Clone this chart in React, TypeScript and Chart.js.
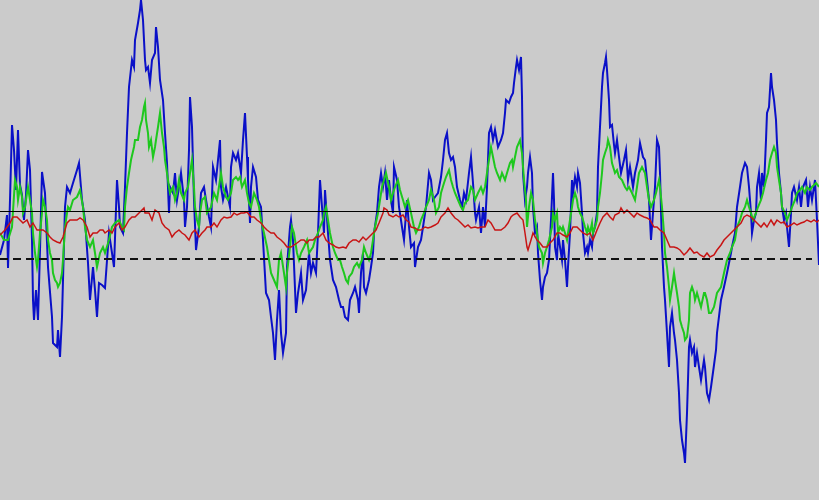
import React, { useEffect, useRef } from "react";
import { Chart, registerables } from "chart.js";

Chart.register(...registerables);

// sample index of each reading
const blueX = [0,4,7,8,10,12,14,16,18,20,22,24,26,28,30,32,33,34,36,38,40,42,45,48,52,53,57,58,60,62,63,65,67,70,73,77,79,82,85,88,90,93,95,97,99,102,105,109,112,114,117,119,120,123,125,127,129,132,134,135,138,140,141,143,145,146,148,150,152,155,156,158,160,163,165,167,169,170,173,175,177,179,181,184,185,187,189,190,192,194,196,199,201,204,206,209,211,213,216,218,220,221,223,226,228,230,231,233,236,238,241,243,245,247,248,250,251,253,256,258,261,263,266,269,271,273,275,277,279,281,283,286,287,290,291,293,296,298,301,303,306,309,311,313,316,318,320,322,324,325,328,330,333,336,339,341,343,345,348,350,353,355,358,359,361,363,364,366,369,371,373,374,377,379,381,383,385,387,389,391,393,394,397,399,402,404,407,409,411,414,415,418,421,423,426,429,431,433,435,438,441,443,445,447,449,451,453,455,457,460,462,464,466,469,471,473,475,476,479,481,483,485,487,489,491,493,495,498,501,503,505,506,509,511,513,514,516,517,519,521,522,523,525,527,528,530,532,533,535,537,538,540,542,543,545,547,549,551,553,554,555,557,558,560,562,563,565,567,568,570,572,573,575,577,578,580,582,583,585,587,588,590,592,593,595,597,598,600,602,603,605,606,607,609,610,612,614,615,617,619,621,624,626,628,630,633,635,638,640,643,645,647,649,651,653,655,657,659,660,662,664,665,667,669,670,672,674,675,677,679,680,682,684,685,687,689,690,692,694,695,697,699,701,704,705,707,709,711,714,716,717,721,724,727,731,732,735,737,740,742,745,747,749,751,752,754,756,757,759,761,762,764,766,767,769,771,772,774,776,777,779,781,782,784,786,787,789,791,792,794,797,799,801,803,806,808,810,812,815,817,819];
const blueV = [-5,10,35,-18,50,125,100,60,120,65,55,30,55,100,80,10,-50,-70,-40,-70,0,78,57,-17,-67,-93,-97,-80,-107,-67,-30,43,63,57,67,80,87,50,30,-13,-50,-17,-40,-67,-33,-35,-38,17,-3,-17,70,43,23,17,63,117,163,190,183,210,227,240,250,230,190,180,183,167,190,197,223,203,170,150,117,87,37,63,57,77,50,63,77,50,23,43,100,153,123,50,0,23,57,63,50,33,23,83,70,90,110,63,50,63,53,43,83,97,90,97,77,110,137,93,70,27,63,83,73,50,43,10,-43,-50,-67,-83,-110,-70,-40,-83,-103,-83,-17,23,30,10,-63,-43,-23,-50,-40,-3,-23,-13,-23,17,70,43,17,60,17,-10,-30,-37,-50,-57,-57,-67,-70,-50,-43,-37,-50,-63,-23,-3,-37,-43,-30,-17,-3,17,37,63,77,63,77,50,70,50,37,83,70,43,23,10,50,23,3,7,-17,3,10,23,43,77,70,50,53,57,73,90,110,117,97,90,93,83,63,50,43,57,50,77,93,67,37,30,43,17,43,23,63,117,123,110,120,103,110,117,137,150,147,153,157,167,183,190,180,193,153,77,50,63,77,93,77,43,17,23,-3,-30,-50,-37,-27,-23,-10,30,77,50,3,-10,17,3,-10,10,-10,-37,-17,17,70,57,73,63,77,67,37,17,-3,3,-3,10,3,17,23,37,83,123,163,177,187,193,180,150,123,125,105,97,110,93,77,90,100,70,83,63,77,90,107,93,90,70,50,10,37,63,110,103,77,3,-37,-50,-83,-117,-77,-63,-83,-90,-110,-143,-170,-190,-203,-213,-163,-97,-90,-103,-97,-117,-103,-117,-130,-110,-117,-143,-150,-137,-115,-100,-83,-50,-37,-23,-3,3,17,43,63,77,87,83,63,37,17,30,37,63,77,50,77,63,110,137,143,177,163,150,130,107,77,57,43,30,37,23,3,37,57,63,50,63,43,63,70,43,63,50,70,30,-15];

const greenX = [0,4,8,12,15,17,18,20,22,23,25,27,28,30,32,33,35,37,38,40,42,43,45,47,48,50,52,53,55,57,58,60,62,63,65,67,68,70,73,77,80,83,85,87,90,93,95,97,100,103,105,109,112,115,119,122,124,125,127,129,131,134,135,138,140,142,144,145,146,148,149,151,153,155,156,158,159,160,162,164,165,167,169,170,173,175,177,179,181,184,185,188,190,192,194,195,197,199,200,202,205,207,211,214,217,221,223,226,228,231,233,236,238,240,242,245,247,249,251,254,257,259,261,264,267,269,271,274,277,279,281,284,286,287,290,292,294,297,299,301,304,307,309,313,315,318,320,323,324,326,328,330,333,335,338,340,342,344,346,348,349,352,354,357,359,362,364,366,369,371,373,375,378,380,382,384,386,389,391,393,395,398,400,403,405,408,411,414,416,419,421,424,426,429,431,434,436,439,441,444,446,449,451,453,455,458,461,463,465,468,471,473,475,478,481,483,485,487,490,491,493,495,497,500,502,505,507,510,512,513,515,517,520,522,524,526,527,529,531,533,535,537,539,542,543,545,547,549,552,553,555,557,558,560,562,563,565,567,568,570,572,573,575,577,578,580,582,583,585,587,588,590,592,593,595,597,598,600,602,603,605,607,608,610,612,615,617,619,622,625,627,629,632,635,637,639,642,645,647,649,651,654,656,659,660,662,664,665,667,669,670,672,674,675,677,679,680,682,684,685,687,689,690,692,694,695,697,699,701,704,705,707,709,711,714,717,721,724,727,730,732,735,737,740,742,745,747,749,751,753,756,758,761,763,766,768,770,772,774,776,777,779,781,782,785,787,790,792,795,797,800,802,805,807,810,812,816,819];
const greenV = [17,10,10,23,70,63,50,63,53,37,43,57,63,50,37,17,-3,-17,-10,17,37,50,43,30,10,-3,-10,-23,-30,-33,-37,-33,-23,-10,23,37,43,40,50,53,60,43,23,10,3,10,-3,-17,-3,3,-3,10,23,27,30,23,20,43,63,77,90,103,110,110,123,130,143,147,130,117,103,110,93,103,110,123,130,137,117,103,90,77,63,57,63,50,57,70,57,50,57,63,77,90,63,43,30,23,37,50,53,37,43,57,50,77,63,53,50,57,70,73,70,73,63,70,57,47,43,57,50,43,30,17,3,-10,-23,-30,-37,-10,-3,-23,-37,-23,3,23,17,-3,-10,-3,3,10,-3,3,10,17,23,30,37,43,30,17,3,-3,-10,-10,-17,-23,-30,-33,-27,-23,-17,-13,-17,-10,3,-3,-10,-3,10,23,37,50,63,70,77,63,50,57,63,70,60,50,43,50,37,23,17,23,30,37,43,50,60,50,37,43,57,67,73,80,70,63,57,50,43,40,47,50,63,60,50,57,63,57,63,77,97,103,93,83,77,70,77,70,77,87,90,83,93,103,110,97,70,50,23,43,57,50,30,17,3,-3,-13,-3,3,10,23,37,30,37,17,23,20,23,17,10,17,30,43,50,57,50,43,37,33,30,23,17,23,17,27,17,23,30,43,57,77,90,97,103,110,103,87,77,80,73,70,63,60,63,57,50,63,77,83,77,63,50,43,50,57,70,63,43,17,-3,-17,-37,-50,-37,-23,-30,-43,-57,-70,-77,-83,-90,-87,-70,-43,-37,-43,-50,-43,-50,-57,-43,-43,-50,-63,-63,-57,-43,-37,-23,-10,-3,3,10,23,30,37,43,50,43,37,30,37,43,50,57,70,77,90,97,103,97,83,70,57,43,37,30,37,43,50,57,60,63,57,63,60,63,67,63];

const redX = [0,5,10,13,17,20,23,27,30,33,37,40,43,47,50,53,57,60,63,67,70,73,77,80,83,87,90,93,97,100,103,105,109,112,115,119,122,125,129,132,135,139,142,144,145,149,152,155,159,162,165,169,172,175,179,182,185,189,192,195,199,202,205,207,211,214,217,221,224,227,231,234,237,241,244,247,251,254,257,261,264,267,271,274,277,281,284,287,291,294,297,301,304,307,309,313,316,319,323,326,329,333,336,339,343,346,349,353,356,359,363,366,369,373,376,379,383,384,387,389,393,396,399,403,406,409,411,415,418,421,425,428,431,435,438,441,445,448,451,455,458,461,465,468,471,475,478,481,485,488,491,495,498,501,505,508,511,513,517,520,523,525,527,528,531,533,537,540,543,547,550,553,557,560,563,567,570,573,577,580,583,587,590,593,597,600,603,607,610,613,615,619,621,624,627,630,634,637,640,644,647,650,654,657,660,664,667,670,674,677,680,684,687,690,694,697,700,704,707,710,714,717,721,724,727,731,734,737,741,744,747,751,754,757,761,764,767,771,774,777,781,784,787,791,794,797,801,804,807,811,814,817,819];
const redV = [15,20,27,33,33,30,27,30,23,27,20,20,20,17,13,10,8,7,13,27,30,30,30,32,30,23,13,17,17,20,20,17,20,17,23,27,20,23,30,33,33,37,40,42,37,37,30,40,37,27,23,20,13,17,20,17,15,10,17,20,13,17,20,23,23,27,23,30,33,32,33,37,35,37,37,38,33,33,30,27,23,20,17,17,13,10,7,3,3,5,7,10,10,7,10,10,13,13,17,10,7,5,3,2,3,2,7,10,10,8,13,10,13,17,20,27,37,42,40,35,33,35,33,35,30,28,23,22,20,20,23,22,23,25,27,33,37,42,37,32,30,27,23,25,22,23,22,23,23,30,27,20,20,20,23,27,33,35,37,33,30,17,3,0,10,17,10,7,3,3,7,10,17,17,15,13,17,23,23,20,17,15,17,10,20,27,33,37,33,30,35,37,42,37,40,37,33,37,35,33,32,30,23,23,20,17,10,3,3,2,0,-5,-2,2,-3,-2,-5,-7,-3,-7,-5,0,5,10,13,17,20,23,27,33,35,33,30,27,23,27,23,30,25,30,27,28,23,25,27,25,27,28,30,28,30,28,30];

// reference levels
const solidLevel = 38.5;
const dashedLevel = -9;
const dashedEnd = 812;

const pts = (xs: number[], vs: number[]) => xs.map((x, i) => ({ x, y: vs[i] }));

export default function App() {
  const ref = useRef<HTMLCanvasElement | null>(null);
  useEffect(() => {
    document.body.style.margin = "0";
    document.body.style.background = "#cbcbcb";
    const canvas = ref.current!;
    const bg = {
      id: "bg",
      beforeDraw(c: any) {
        const ctx = c.ctx;
        ctx.save();
        ctx.fillStyle = "#cbcbcb";
        ctx.fillRect(0, 0, c.width, c.height);
        ctx.restore();
      },
    };
    const chart = new Chart(canvas, {
      type: "line",
      data: {
        datasets: [
          {
            data: [{ x: 0, y: solidLevel }, { x: 819, y: solidLevel }],
            borderColor: "#000000",
            borderWidth: 1,
            pointRadius: 0,
            order: 0,
          },
          {
            data: [{ x: 0, y: dashedLevel }, { x: dashedEnd, y: dashedLevel }],
            borderColor: "#111111",
            borderWidth: 2,
            borderDash: [8, 5],
            pointRadius: 0,
            order: 0,
          },
          {
            data: pts(redX, redV),
            borderColor: "#c81414",
            borderWidth: 1.5,
            pointRadius: 0,
            order: 1,
          },
          {
            data: pts(greenX, greenV),
            borderColor: "#1ec81e",
            borderWidth: 2,
            pointRadius: 0,
            order: 2,
          },
          {
            data: pts(blueX, blueV),
            borderColor: "#0a10c8",
            borderWidth: 2,
            pointRadius: 0,
            order: 3,
          },
        ] as any,
      },
      options: {
        animation: false,
        responsive: false,
        maintainAspectRatio: false,
        layout: { padding: 0 },
        elements: { line: { tension: 0 } },
        plugins: { legend: { display: false }, tooltip: { enabled: false } },
        scales: {
          x: { type: "linear", min: 0, max: 819, display: false },
          y: { type: "linear", min: -250, max: 250, display: false },
        },
      },
      plugins: [bg],
    });
    return () => chart.destroy();
  }, []);
  return (
    <div style={{ width: 819, height: 500, background: "#cbcbcb" }}>
      <canvas ref={ref} width={819} height={500} style={{ display: "block" }} />
    </div>
  );
}
